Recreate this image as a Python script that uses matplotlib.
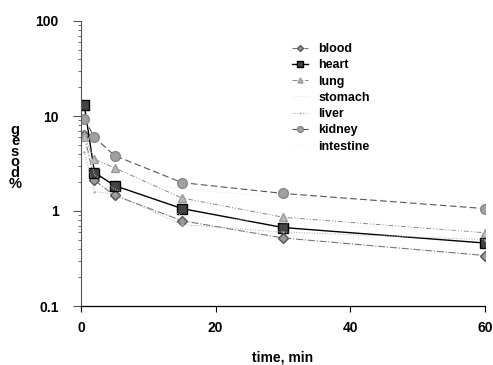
import matplotlib
matplotlib.use("Agg")
import matplotlib.pyplot as plt
from matplotlib.ticker import LogLocator, NullFormatter, FixedLocator

plt.rcParams['font.family'] = ['Liberation Sans', 'DejaVu Sans']
plt.rcParams['font.weight'] = 'bold'

time_min = [0.5, 2, 5, 15, 30, 60]

blood = [6.3, 2.1, 1.46, 0.79, 0.52, 0.34]
heart = [12.9, 2.54, 1.85, 1.06, 0.67, 0.46]
lung = [6.0, 3.5, 2.84, 1.37, 0.86, 0.59]
stomach = [5.0, 3.0, 2.2, 1.7, 1.4, 1.2]
liver = [4.2, 1.6, 1.5, 0.72, 0.6, 0.5]
kidney = [9.4, 5.95, 3.83, 1.99, 1.53, 1.06]
intestine = [7.0, 2.4, 1.7, 0.9, 0.75, 0.6]

x_ticks = [0, 20, 40, 60]
y_ticks = [0.1, 1, 10, 100]
y_tick_labels = ['0.1', '1', '10', '100']

fig = plt.figure(figsize=(4.93, 3.65), dpi=100)
ax = fig.add_axes([81 / 493, 1 - 306 / 365, 404 / 493, 285 / 365])

ax.plot(time_min, blood, linestyle='-.', color='#777777', lw=0.8,
        marker='D', markersize=5, markerfacecolor='#999999',
        markeredgecolor='#555555', label='blood')
ax.plot(time_min, heart, linestyle='-', color='black', lw=1.0,
        marker='s', markersize=7, markerfacecolor='#444444',
        markeredgecolor='black', label='heart')
ax.plot(time_min, lung, linestyle=(0, (5, 2, 1, 2, 1, 2)), color='#888888', lw=0.7,
        marker='^', markersize=6, markerfacecolor='#bbbbbb',
        markeredgecolor='#999999', label='lung')
ax.plot(time_min, stomach, linestyle=':', color='#e4e4e4', lw=0.6,
        label='stomach')
ax.plot(time_min, liver, linestyle=':', color='#aaaaaa', lw=0.7,
        marker='.', markersize=1.5, markerfacecolor='#aaaaaa',
        markeredgecolor='#aaaaaa', label='liver')
ax.plot(time_min, kidney, linestyle=(0, (6, 3)), color='#555555', lw=0.8,
        marker='o', markersize=7, markerfacecolor='#a0a0a0',
        markeredgecolor='#888888', label='kidney')
ax.plot(time_min, intestine, linestyle=':', color='#eeeeee', lw=0.6,
        label='intestine')

ax.set_yscale('log')
ax.set_ylim(0.1, 100)
ax.set_xlim(0, 60)

ax.yaxis.set_major_locator(FixedLocator(y_ticks))
ax.set_yticklabels(y_tick_labels)
ax.yaxis.set_minor_locator(LogLocator(base=10, subs=range(2, 10)))
ax.yaxis.set_minor_formatter(NullFormatter())
ax.set_xticks(x_ticks)

ax.tick_params(axis='y', which='major', direction='out', length=6, width=0.8,
               pad=10, labelsize=10, colors='#555555', labelcolor='black')
ax.tick_params(axis='y', which='minor', direction='out', length=2.5, width=0.6,
               colors='#555555')
ax.tick_params(axis='x', which='major', direction='out', length=4, width=0.8,
               pad=7, labelsize=10)

for lbl in ax.get_xticklabels() + ax.get_yticklabels():
    lbl.set_fontweight('bold')

ax.spines['top'].set_visible(False)
ax.spines['right'].set_visible(False)
ax.spines['left'].set_color('#555555')
ax.spines['left'].set_linewidth(0.8)
ax.spines['bottom'].set_linewidth(0.9)

ax.set_xlabel('time, min', fontsize=10, fontweight='bold', labelpad=11)

# stacked y label as in the original scan
fig.text(15 / 493, 1 - 157 / 365, 'g\ne\ns\no\nd\n%', ha='center', va='center',
         fontsize=10.5, fontweight='bold', linespacing=0.72)

leg = ax.legend(loc='upper left', bbox_to_anchor=(292 / 493, 1 - 43 / 365),
                bbox_transform=fig.transFigure, frameon=False,
                prop={'weight': 'bold', 'size': 9}, handlelength=1.3,
                handletextpad=0.8, labelspacing=0.34, borderpad=0,
                borderaxespad=0, markerscale=0.6)

fig.savefig('out.png', dpi=100)
